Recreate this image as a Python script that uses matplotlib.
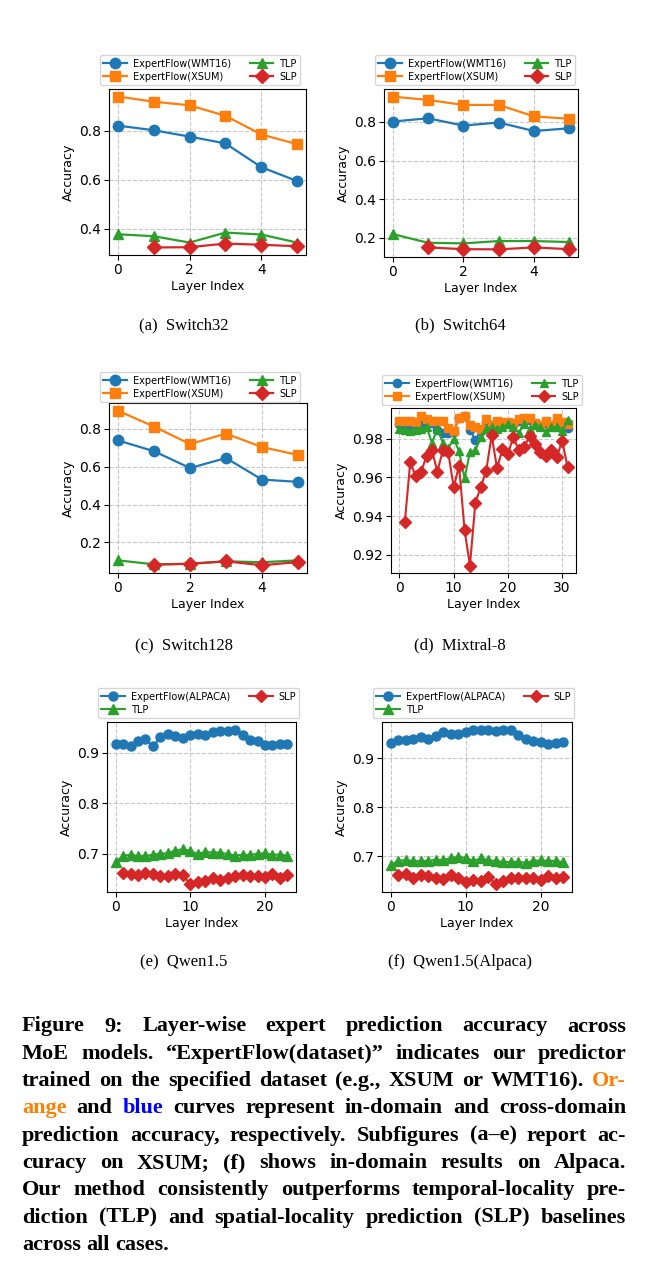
import matplotlib
matplotlib.use("Agg")
import matplotlib.pyplot as plt

W, H, DPI = 652, 1272, 100

# ---------------- data ----------------
x6 = [0, 1, 2, 3, 4, 5]
x6_slp = [1, 2, 3, 4, 5]

sw32_wmt = [0.822, 0.803, 0.777, 0.749, 0.652, 0.595]
sw32_xsum = [0.941, 0.920, 0.905, 0.862, 0.786, 0.746]
sw32_tlp = [0.377, 0.369, 0.343, 0.384, 0.376, 0.343]
sw32_slp = [0.323, 0.324, 0.339, 0.334, 0.328]

sw64_wmt = [0.802, 0.819, 0.781, 0.797, 0.753, 0.767]
sw64_xsum = [0.931, 0.914, 0.888, 0.888, 0.829, 0.816]
sw64_tlp = [0.219, 0.174, 0.171, 0.183, 0.183, 0.178]
sw64_slp = [0.150, 0.141, 0.140, 0.150, 0.141]

sw128_wmt = [0.739, 0.682, 0.593, 0.646, 0.532, 0.520]
sw128_xsum = [0.896, 0.812, 0.720, 0.775, 0.704, 0.662]
sw128_tlp = [0.105, 0.084, 0.087, 0.100, 0.095, 0.105]
sw128_slp = [0.082, 0.087, 0.100, 0.079, 0.096]

x32 = list(range(32))
x32_slp = list(range(1, 32))
mix_wmt = [0.9875, 0.987, 0.987, 0.9875, 0.988, 0.989, 0.988, 0.9845, 0.983, 0.983,
           0.9835, 0.9905, 0.9915, 0.9845, 0.9795, 0.984, 0.9885, 0.987, 0.988, 0.988,
           0.988, 0.987, 0.989, 0.989, 0.9895, 0.9875, 0.9865, 0.988, 0.9865, 0.9895,
           0.988, 0.9855]
mix_xsum = [0.989, 0.989, 0.989, 0.9887, 0.9918, 0.990, 0.989, 0.989, 0.989, 0.9856,
            0.984, 0.9907, 0.992, 0.987, 0.9861, 0.985, 0.990, 0.987, 0.989, 0.9885,
            0.9885, 0.988, 0.990, 0.9905, 0.9905, 0.988, 0.987, 0.989, 0.987, 0.9905,
            0.9885, 0.9875]
mix_tlp = [0.985, 0.9845, 0.984, 0.9845, 0.985, 0.986, 0.978, 0.985, 0.978, 0.975,
           0.980, 0.9735, 0.9595, 0.973, 0.974, 0.981, 0.985, 0.986, 0.985, 0.986,
           0.9875, 0.986, 0.983, 0.9875, 0.985, 0.987, 0.986, 0.9835, 0.986, 0.986,
           0.984, 0.9895]
mix_slp = [0.937, 0.968, 0.9605, 0.963, 0.971, 0.974, 0.963, 0.974, 0.973, 0.955,
           0.966, 0.933, 0.9145, 0.947, 0.955, 0.9635, 0.9817, 0.9647, 0.9748, 0.972,
           0.981, 0.974, 0.9757, 0.9814, 0.9774, 0.973, 0.9713, 0.974, 0.9704, 0.979,
           0.9652]

x24 = list(range(24))
x24_slp = list(range(1, 24))
qwen_alp = [0.9166, 0.9166, 0.9126, 0.9226, 0.9265, 0.9126, 0.9312, 0.9378, 0.9325, 0.9299,
            0.9345, 0.9378, 0.9358, 0.9411, 0.9424, 0.9424, 0.9458, 0.9345, 0.9259, 0.9232,
            0.9146, 0.916, 0.9166, 0.918]
qwen_tlp = [0.6834, 0.6954, 0.6974, 0.6950, 0.6950, 0.6974, 0.700, 0.7007, 0.706, 0.7086,
            0.7053, 0.6987, 0.7033, 0.702, 0.702, 0.6987, 0.696, 0.6974, 0.6974, 0.6993,
            0.7007, 0.6974, 0.698, 0.6954]
qwen_slp = [0.6623, 0.660, 0.657, 0.6616, 0.659, 0.6556, 0.6563, 0.659, 0.6576, 0.639,
            0.6437, 0.645, 0.6523, 0.6483, 0.651, 0.655, 0.6576, 0.6563, 0.6563, 0.6536,
            0.659, 0.6523, 0.6576]

qwa_alp = [0.931, 0.938, 0.938, 0.940, 0.9434, 0.940, 0.9448, 0.953, 0.950, 0.9497,
           0.953, 0.9586, 0.9586, 0.9586, 0.9566, 0.9586, 0.9586, 0.9483, 0.9393, 0.9359,
           0.9345, 0.9297, 0.9324, 0.9345]
qwa_tlp = [0.6822, 0.691, 0.6925, 0.6904, 0.6904, 0.691, 0.6932, 0.6925, 0.6966, 0.6986,
           0.6973, 0.691, 0.696, 0.6925, 0.6904, 0.689, 0.6884, 0.689, 0.687, 0.691,
           0.6918, 0.691, 0.6904, 0.6884]
qwa_slp = [0.6616, 0.6637, 0.6568, 0.6616, 0.660, 0.6568, 0.6548, 0.6616, 0.6555, 0.648,
           0.6527, 0.650, 0.6582, 0.6432, 0.650, 0.6555, 0.6568, 0.6568, 0.6555, 0.6527,
           0.660, 0.6568, 0.6582]

sub_captions = ["(a)  Switch32", "(b)  Switch64", "(c)  Switch128",
                "(d)  Mixtral-8", "(e)  Qwen1.5", "(f)  Qwen1.5(Alpaca)"]

BLUE, ORANGE, GREEN, RED = "#1f77b4", "#ff7f0e", "#2ca02c", "#d62728"

# ---------------- figure ----------------
fig = plt.figure(figsize=(W / DPI, H / DPI), dpi=DPI)


def add_ax(l, t, r, b):
    return fig.add_axes([l / W, 1 - b / H, (r - l) / W, (b - t) / H])


def panel(box, series, leg_xy, ms, lw):
    ax = add_ax(*box)
    for xs, ys, lab, col, mk in series:
        ax.plot(xs, ys, marker=mk, color=col, label=lab, ms=ms, lw=lw)
    ax.grid(True, ls="--", color="#b0b0b0", lw=0.8, alpha=0.7)
    ax.set_xlabel("Layer Index", fontsize=9, labelpad=2)
    ax.set_ylabel("Accuracy", fontsize=9, labelpad=3)
    ax.tick_params(labelsize=10, pad=2.5)
    ax.legend(ncol=2, loc="lower left",
              bbox_to_anchor=(leg_xy[0] / W, 1 - leg_xy[1] / H),
              bbox_transform=fig.transFigure, borderaxespad=0,
              fontsize=7, handlelength=2.4, labelspacing=0.3,
              columnspacing=2.0, borderpad=0.35, handletextpad=0.6,
              fancybox=True, framealpha=0.8)
    return ax


panel((109, 89, 306, 255),
      [(x6, sw32_wmt, "ExpertFlow(WMT16)", BLUE, "o"),
       (x6, sw32_xsum, "ExpertFlow(XSUM)", ORANGE, "s"),
       (x6, sw32_tlp, "TLP", GREEN, "^"),
       (x6_slp, sw32_slp, "SLP", RED, "D")], (100, 85), 7.5, 1.6)
panel((384, 89, 578, 257),
      [(x6, sw64_wmt, "ExpertFlow(WMT16)", BLUE, "o"),
       (x6, sw64_xsum, "ExpertFlow(XSUM)", ORANGE, "s"),
       (x6, sw64_tlp, "TLP", GREEN, "^"),
       (x6_slp, sw64_slp, "SLP", RED, "D")], (375, 85), 7.5, 1.6)
panel((109, 403, 307, 573),
      [(x6, sw128_wmt, "ExpertFlow(WMT16)", BLUE, "o"),
       (x6, sw128_xsum, "ExpertFlow(XSUM)", ORANGE, "s"),
       (x6, sw128_tlp, "TLP", GREEN, "^"),
       (x6_slp, sw128_slp, "SLP", RED, "D")], (100, 402), 7.5, 1.6)
panel((391, 408, 576, 573),
      [(x32, mix_wmt, "ExpertFlow(WMT16)", BLUE, "o"),
       (x32, mix_xsum, "ExpertFlow(XSUM)", ORANGE, "s"),
       (x32, mix_tlp, "TLP", GREEN, "^"),
       (x32_slp, mix_slp, "SLP", RED, "D")], (382, 405), 6, 1.5)
panel((107, 722, 296, 892),
      [(x24, qwen_alp, "ExpertFlow(ALPACA)", BLUE, "o"),
       (x24, qwen_tlp, "TLP", GREEN, "^"),
       (x24_slp, qwen_slp, "SLP", RED, "D")], (98, 718), 6.5, 1.5)
panel((382, 722, 572, 892),
      [(x24, qwa_alp, "ExpertFlow(ALPACA)", BLUE, "o"),
       (x24, qwa_tlp, "TLP", GREEN, "^"),
       (x24_slp, qwa_slp, "SLP", RED, "D")], (373, 718), 6.5, 1.5)

# sub-captions
cap_pos = [(184, 325), (460, 325), (184, 645), (460, 645), (184, 962), (460, 962)]
for (cx, cy), s in zip(cap_pos, sub_captions):
    fig.text(cx / W, 1 - cy / H, s, ha="center", va="center",
             family="Liberation Serif", fontsize=12)

# ---------------- justified figure caption ----------------
K, O, B = "black", "#ff8000", "#0000ff"
caption_lines = [
    [("Figure 9: Layer-wise expert prediction accuracy across", K)],
    [("MoE models. \u201cExpertFlow(dataset)\u201d indicates our predictor", K)],
    [("trained on the specified dataset (e.g., XSUM or WMT16).", K), ("Or-", O)],
    [("ange", O), ("and", K), ("blue", B), ("curves represent in-domain and cross-domain", K)],
    [("prediction accuracy, respectively. Subfigures (a\u2013e) report ac-", K)],
    [("curacy on XSUM; (f) shows in-domain results on Alpaca.", K)],
    [("Our method consistently outperforms temporal-locality pre-", K)],
    [("diction (TLP) and spatial-locality prediction (SLP) baselines", K)],
    [("across all cases.", K)],
]

renderer = fig.canvas.get_renderer()
FONT = dict(family="Liberation Serif", fontweight="bold")
X0, X1 = 22, 626
BASE0, LEAD = 1031.5, 27.3


def words_of(line):
    out = []
    for chunk, col in line:
        for w in chunk.split(" "):
            out.append((w, col))
    return out


def measure(word, fs):
    t = fig.text(0, 0, word, fontsize=fs, **FONT)
    w = t.get_window_extent(renderer).width
    t.remove()
    return w


fs0 = 16.0
space0 = measure("a a", fs0) - measure("aa", fs0)
maxw = 0
for ln in caption_lines[:-1]:
    ws = words_of(ln)
    nat = sum(measure(w, fs0) for w, _ in ws) + space0 * (len(ws) - 1)
    maxw = max(maxw, nat)
fs = min(16.0, fs0 * (X1 - X0 - 2) / maxw)
space = measure("a a", fs) - measure("aa", fs)

for i, ln in enumerate(caption_lines):
    ws = words_of(ln)
    widths = [measure(w, fs) for w, _ in ws]
    if i < len(caption_lines) - 1 and len(ws) > 1:
        gap = (X1 - X0 - sum(widths)) / (len(ws) - 1)
    else:
        gap = space
    x = X0
    y = BASE0 + i * LEAD
    for (w, col), wd in zip(ws, widths):
        fig.text(x / W, 1 - y / H, w, color=col, fontsize=fs, ha="left",
                 va="baseline", **FONT)
        x += wd + gap

fig.savefig("out.png", dpi=DPI)
